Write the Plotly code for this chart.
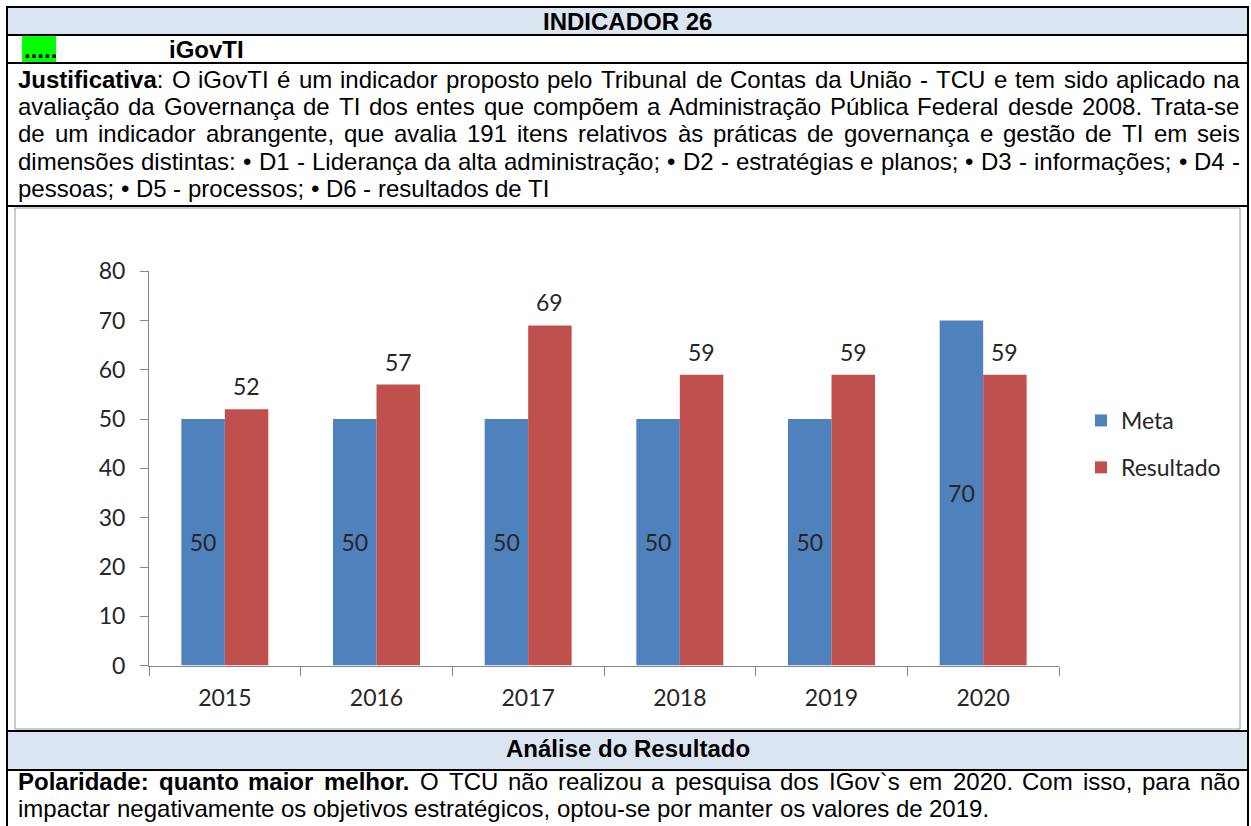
import re
import unicodedata
import plotly.graph_objects as go

W, H = 1251, 826

# ---------------- data ----------------
years = ["2015", "2016", "2017", "2018", "2019", "2020"]
meta = [50, 50, 50, 50, 50, 70]
resultado = [52, 57, 69, 59, 59, 59]
y_ticks = [0, 10, 20, 30, 40, 50, 60, 70, 80]
series_names = ["Meta", "Resultado"]

title_text = "INDICADOR 26"
marker_text = "....."
indicator_name = "iGovTI"
analysis_header = "Análise do Resultado"

justificativa_lines = [
    "<b>Justificativa</b>: O iGovTI é um indicador proposto pelo Tribunal de Contas da União - TCU e tem sido aplicado na",
    "avaliação da Governança de TI dos entes que compõem a Administração Pública Federal desde 2008. Trata-se",
    "de um indicador abrangente, que avalia 191 itens relativos às práticas de governança e gestão de TI em seis",
    "dimensões distintas: • D1 - Liderança da alta administração; • D2 - estratégias e planos; • D3 - informações; • D4 -",
    "pessoas; • D5 - processos; • D6 - resultados de TI",
]
polaridade_lines = [
    "<b>Polaridade:</b> <b>quanto</b> <b>maior</b> <b>melhor.</b> O TCU não realizou a pesquisa dos IGov`s em 2020. Com isso, para não",
    "impactar negativamente os objetivos estratégicos, optou-se por manter os valores de 2019.",
]

# ---------------- colours / fonts ----------------
BLUE = "#4F81BD"
RED = "#C0504D"
HEAD_FILL = "#DBE5F1"
GREEN = "#00FF00"
AXIS_GRAY = "#868686"
TXT_FONT = "Liberation Sans"
CHART_FONT = "Lato"
TXT_SIZE = 24
CHART_SIZE = 23
CHART_TXT = "#262626"

# Arial-metric widths (per 1000 em) for text justification
REG = dict(zip("abcdefghijklmnopqrstuvwxyz",
               [556, 556, 500, 556, 556, 278, 556, 556, 222, 222, 500, 222, 833,
                556, 556, 556, 556, 333, 500, 278, 556, 500, 722, 500, 500, 500]))
REG.update(zip("ABCDEFGHIJKLMNOPQRSTUVWXYZ",
               [667, 667, 722, 722, 667, 611, 778, 722, 278, 500, 667, 556, 833,
                722, 778, 667, 778, 722, 667, 611, 722, 667, 944, 667, 667, 611]))
REG.update({c: 556 for c in "0123456789"})
REG.update({" ": 278, ".": 278, ",": 278, ":": 278, ";": 278, "-": 333,
            "•": 350, "`": 333, "'": 191})
BOLD = dict(zip("abcdefghijklmnopqrstuvwxyz",
                [556, 611, 556, 611, 556, 333, 611, 611, 278, 278, 556, 278, 889,
                 611, 611, 611, 611, 389, 556, 333, 611, 556, 778, 556, 556, 500]))
BOLD.update(zip("ABCDEFGHIJKLMNOPQRSTUVWXYZ",
                [722, 722, 722, 722, 667, 611, 778, 722, 278, 556, 722, 611, 833,
                 722, 778, 667, 778, 722, 667, 611, 722, 667, 944, 667, 667, 611]))
BOLD.update({c: 556 for c in "0123456789"})
BOLD.update({" ": 278, ".": 278, ",": 278, ":": 333, ";": 333, "-": 333,
             "•": 350, "`": 333, "'": 238})


def char_w(ch, bold):
    table = BOLD if bold else REG
    if ch in table:
        return table[ch]
    base = unicodedata.normalize("NFD", ch)[0]
    return table.get(base, 556)


def token_width(tok, size):
    bold = False
    total = 0
    for part in re.split(r"(<b>|</b>)", tok):
        if part == "<b>":
            bold = True
        elif part == "</b>":
            bold = False
        else:
            total += sum(char_w(c, bold) for c in part)
    return total * size / 1000.0


def px(x):
    return x / W


def py(y):
    return 1 - y / H


annotations = []
shapes = []


def add_text(x, y, text, anchor="left", size=TXT_SIZE, family=TXT_FONT):
    annotations.append(dict(
        x=px(x), y=py(y), xref="paper", yref="paper", text=text,
        showarrow=False, xanchor=anchor, yanchor="middle", borderpad=0,
        font=dict(family=family, size=size, color="black")))


def add_paragraph(lines, left, right, y0, lh):
    for i, line in enumerate(lines):
        toks = line.split(" ")
        widths = [token_width(t, TXT_SIZE) for t in toks]
        sp = REG[" "] * TXT_SIZE / 1000.0
        last = i == len(lines) - 1
        if last or len(toks) < 2:
            gap = sp
        else:
            gap = (right - left - sum(widths)) / (len(toks) - 1)
        x = left
        for t, w in zip(toks, widths):
            add_text(x, y0 + i * lh, t)
            x += w + gap


L, R = 7, 1248
LH = 27.4

# header fills
for (y0, y1) in [(7, 35), (731, 770)]:
    shapes.append(dict(type="rect", xref="paper", yref="paper",
                       x0=px(L), x1=px(R), y0=py(y1), y1=py(y0),
                       fillcolor=HEAD_FILL, line=dict(width=0), layer="below"))
# green marker
shapes.append(dict(type="rect", xref="paper", yref="paper",
                   x0=px(22), x1=px(56), y0=py(62), y1=py(36),
                   fillcolor=GREEN, line=dict(width=0), layer="below"))
# chart frame
shapes.append(dict(type="rect", xref="paper", yref="paper",
                   x0=px(15), x1=px(1240), y0=py(729), y1=py(208),
                   fillcolor="rgba(0,0,0,0)", line=dict(width=1, color="#9a9a9a"),
                   layer="below"))
# table rules
for y in [7, 35, 63, 206, 731, 770]:
    shapes.append(dict(type="line", xref="paper", yref="paper",
                       x0=px(L - 1), x1=px(R + 1), y0=py(y), y1=py(y),
                       line=dict(width=2, color="black")))
for x in [L, R]:
    shapes.append(dict(type="line", xref="paper", yref="paper",
                       x0=px(x), x1=px(x), y0=py(6), y1=py(H + 5),
                       line=dict(width=2, color="black")))

add_text((L + R) / 2, 21.5, f"<b>{title_text}</b>", anchor="center")
add_text(23, 49.5, f"<b>{marker_text}</b>")
add_text(168, 49.5, f"<b>{indicator_name}</b>")
add_paragraph(justificativa_lines, 17, 1239, 79, LH)
add_text((L + R) / 2, 748, f"<b>{analysis_header}</b>", anchor="center")
add_paragraph(polaridade_lines, 17, 1239, 781, LH)

# ---------------- chart ----------------
fig = go.Figure()
fig.add_trace(go.Bar(
    x=years, y=meta, name=series_names[0], marker=dict(color=BLUE, line=dict(width=0)),
    text=[str(v) for v in meta], textposition="inside", insidetextanchor="middle",
    constraintext="none", textangle=0,
    textfont=dict(family=CHART_FONT, size=CHART_SIZE, color=CHART_TXT),
    legendgroup="a"))
fig.add_trace(go.Bar(
    x=years, y=resultado, name=series_names[1], marker=dict(color=RED, line=dict(width=0)),
    legendgroup="b"))

# value labels above the Resultado bars (category axis -> category index)
for i, v in enumerate(resultado):
    annotations.append(dict(
        x=i, y=v, xref="x", yref="y", text=str(v), showarrow=False,
        xshift=21.75, yshift=23, yanchor="middle", xanchor="center",
        font=dict(family=CHART_FONT, size=CHART_SIZE, color=CHART_TXT)))

fig.update_layout(
    width=W, height=H, autosize=False,
    margin=dict(l=0, r=0, t=0, b=0, pad=0, autoexpand=False),
    paper_bgcolor="white", plot_bgcolor="white",
    barmode="group", bargap=0.4265, bargroupgap=0,
    showlegend=True,
    legend=dict(x=px(1081), y=py(444), xanchor="left", yanchor="middle",
                font=dict(family=CHART_FONT, size=CHART_SIZE, color=CHART_TXT),
                tracegroupgap=14, bgcolor="rgba(0,0,0,0)", itemwidth=30),
    xaxis=dict(domain=[px(149), px(1059)], type="category",
               categoryorder="array", categoryarray=years,
               range=[-0.5, len(years) - 0.5], autorange=False,
               automargin=False, tickangle=0,
               showline=True, linecolor=AXIS_GRAY, linewidth=1,
               ticks="outside", tickson="boundaries", ticklen=9,
               tickcolor=AXIS_GRAY, showgrid=False, ticklabelstandoff=12,
               tickfont=dict(family=CHART_FONT, size=CHART_SIZE, color=CHART_TXT)),
    yaxis=dict(domain=[py(665.6), py(271.2)], range=[0, 80], autorange=False,
               automargin=False,
               tickvals=y_ticks, showline=True, linecolor=AXIS_GRAY, linewidth=1,
               ticks="outside", ticklen=8, tickcolor=AXIS_GRAY,
               showgrid=False, zeroline=False, ticklabelstandoff=10,
               tickfont=dict(family=CHART_FONT, size=CHART_SIZE, color=CHART_TXT)),
    annotations=annotations,
    shapes=shapes,
    hovermode=False,
)

fig.write_html("out.html", config={"displayModeBar": False},
               post_script="document.body.style.margin='0';document.body.style.overflow='hidden';")
